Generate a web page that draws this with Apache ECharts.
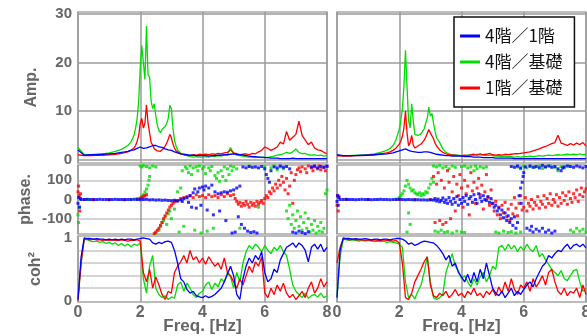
<!DOCTYPE html>
<html>
<head>
<meta charset="utf-8">
<script src="https://cdn.jsdelivr.net/npm/echarts@6/dist/echarts.min.js"></script>
<style>
html, body { margin: 0; padding: 0; background: #fff; }
#chart { width: 587px; height: 336px; }
</style>
</head>
<body>
<div id="chart"></div>
<script>
var seriesNames = ['4階／1階', '4階／基礎', '1階／基礎']

// amplitude spectra, finer steps around the peaks
var ampFreq = [0, 0.2, 0.4, 0.6, 0.8, 1.0, 1.2, 1.4, 1.6, 1.7, 1.8,
    1.85, 1.9, 1.95, 2.0, 2.05, 2.1, 2.15, 2.2, 2.25, 2.3, 2.35, 2.4, 2.45, 2.5, 2.55, 2.6, 2.65, 2.7, 2.75, 2.8, 2.85, 2.9, 2.95, 3.0, 3.05, 3.1, 3.15, 3.2,
    3.3, 3.4, 3.5, 3.6, 3.7, 3.8, 3.9, 4.0,
    4.1, 4.2, 4.3, 4.4, 4.5, 4.6, 4.7, 4.8, 4.9, 5.0,
    5.1, 5.2, 5.3, 5.4, 5.5, 5.6, 5.7, 5.8, 5.9, 6.0,
    6.1, 6.2, 6.3, 6.4, 6.5, 6.6, 6.7, 6.8, 6.9, 7.0,
    7.1, 7.2, 7.3, 7.4, 7.5, 7.6, 7.7, 7.8, 7.9, 8.0]

var ampB1 = [2.0, 0.9, 1.0, 1.0, 1.1, 1.2, 1.3, 1.5, 1.7, 1.9, 2.0,
    2.1, 2.3, 2.5, 2.6, 2.5, 2.3, 2.2, 2.4, 2.3, 2.6, 2.8, 2.9, 2.8, 2.9, 2.7, 2.6, 2.5, 2.5, 2.3, 2.2, 2.2, 2.0, 1.9, 1.9, 1.7, 1.6, 1.5, 1.4,
    1.2, 1.1, 1.0, 0.9, 0.9, 0.8, 0.8, 0.8,
    0.8, 0.7, 0.8, 0.8, 0.9, 0.9, 1.0, 1.0, 1.1, 1.2,
    1.1, 1.0, 0.9, 0.8, 0.7, 0.6, 0.6, 0.5, 0.5, 0.4,
    0.4, 0.3, 0.3, 0.3, 0.2, 0.2, 0.2, 0.2, 0.3, 0.2,
    0.2, 0.2, 0.2, 0.2, 0.2, 0.2, 0.2, 0.2, 0.2, 0.2]
var ampG1 = [2.5, 1.0, 1.0, 1.1, 1.2, 1.4, 1.7, 2.1, 2.9, 3.6, 5.0,
    6.5, 8.5, 12, 19, 23.5, 20, 16.5, 27.5, 17.5, 17, 12, 10.5, 11.5, 9, 7, 6, 5.5, 6.2, 5.8, 6.8, 7.5, 8.5, 11.2, 10.5, 6.5, 4.0, 2.8, 2.0,
    1.3, 1.0, 0.8, 0.6, 0.5, 0.6, 0.5, 0.5,
    0.6, 0.5, 0.7, 0.6, 0.8, 0.7, 0.9, 1.0, 2.5, 1.2,
    0.9, 0.8, 0.7, 0.6, 0.5, 0.5, 0.4, 0.5, 0.4, 0.5,
    0.4, 0.6, 0.7, 0.9, 1.0, 1.2, 1.5, 1.3, 1.6, 2.2,
    1.5, 1.2, 1.3, 1.0, 0.9, 1.0, 0.8, 0.9, 0.7, 0.8]
var ampR1 = [1.0, 0.8, 0.8, 0.9, 0.9, 1.0, 1.1, 1.3, 1.6, 1.9, 2.4,
    2.9, 3.8, 5.0, 7.5, 8.5, 6.5, 7.5, 11.3, 7.5, 5.5, 3.5, 3.0, 2.2, 2.0, 1.8, 2.0, 1.7, 2.1, 2.3, 2.8, 3.4, 4.2, 5.2, 4.5, 3.2, 2.4, 1.8, 1.5,
    1.2, 1.0, 0.9, 0.8, 1.0, 0.9, 1.1, 1.0,
    1.1, 1.0, 1.2, 1.1, 1.3, 1.2, 1.4, 1.5, 2.0, 1.4,
    1.2, 1.0, 1.1, 1.2, 1.0, 1.3, 1.2, 1.6, 1.9, 2.6,
    2.3, 1.9, 2.2, 2.6, 3.6, 3.2, 5.8, 4.0, 4.6, 5.2,
    7.9, 5.0, 4.0, 3.1, 3.6, 2.4, 2.0, 1.9, 1.5, 1.2]

var ampB2 = [1.0, 0.8, 0.8, 0.8, 0.9, 0.9, 1.0, 1.1, 1.2, 1.3, 1.4,
    1.5, 1.6, 1.7, 1.8, 1.9, 2.0, 2.1, 2.2, 2.0, 1.9, 1.8, 1.7, 1.6, 1.6, 1.5, 1.5, 1.5, 1.5, 1.5, 1.6, 1.5, 1.6, 1.5, 1.5, 1.4, 1.3, 1.2, 1.1,
    1.0, 0.9, 0.8, 0.8, 0.7, 0.7, 0.7, 0.7,
    0.6, 0.6, 0.6, 0.5, 0.5, 0.5, 0.4, 0.4, 0.4, 0.4,
    0.3, 0.3, 0.3, 0.3, 0.3, 0.3, 0.2, 0.2, 0.2, 0.2,
    0.2, 0.2, 0.2, 0.2, 0.2, 0.2, 0.2, 0.2, 0.2, 0.2,
    0.2, 0.2, 0.2, 0.2, 0.2, 0.2, 0.2, 0.2, 0.2, 0.2]
var ampG2 = [0.8, 0.8, 0.8, 0.9, 0.9, 1.0, 1.2, 1.5, 1.9, 2.3, 2.9,
    3.4, 4.2, 5.2, 6.2, 8.0, 10.5, 15, 22.5, 15, 8.0, 6.5, 11.5, 8, 5.2, 4.8, 5.0, 4.6, 5.3, 5.8, 6.3, 7.5, 8.5, 10.8, 9.0, 9.5, 7.5, 5.8, 4.5,
    3.5, 2.2, 1.5, 1.2, 1.0, 0.9, 0.9, 0.8,
    0.8, 0.9, 1.0, 0.9, 1.1, 1.0, 0.9, 0.8, 0.9, 0.8,
    0.7, 0.7, 0.6, 0.7, 0.6, 0.6, 0.5, 0.6, 0.5, 0.6,
    0.6, 0.7, 0.6, 0.7, 0.8, 0.7, 0.8, 0.9, 0.8, 0.9,
    1.0, 0.9, 1.0, 1.1, 1.0, 1.1, 1.0, 1.2, 1.0, 1.1]
var ampR2 = [0.8, 0.7, 0.7, 0.8, 0.8, 0.9, 1.0, 1.2, 1.4, 1.6, 1.9,
    2.1, 2.4, 2.8, 3.2, 3.8, 4.8, 6.5, 10.0, 5.5, 2.8, 3.5, 5.0, 3.0, 2.4, 2.6, 2.8, 2.7, 3.2, 3.6, 4.0, 4.6, 5.0, 6.2, 5.5, 5.2, 4.3, 3.4, 2.8,
    2.0, 1.5, 1.2, 1.0, 0.9, 0.9, 0.8, 0.8,
    0.9, 0.8, 1.0, 1.1, 0.9, 1.2, 1.0, 1.1, 1.3, 1.0,
    0.9, 1.0, 0.9, 1.1, 1.0, 1.1, 1.2, 1.2, 1.3, 1.4,
    1.5, 1.6, 1.8, 2.0, 2.2, 2.5, 2.7, 3.0, 3.3, 3.5,
    5.0, 3.4, 3.2, 2.9, 3.3, 3.0, 3.4, 3.1, 3.5, 2.8]

// phase [Hz, deg]
var phB1 = [[0.0, -20], [0.02, 10], [0.05, -40], [0.08, 5], [0.1, 0], [0.2, 0], [0.3, 1], [0.4, 0], [0.5, -1], [0.6, 0], [0.7, 1], [0.8, 0], [0.9, 0],
    [1.0, -1], [1.1, 0], [1.2, 1], [1.3, 0], [1.4, 0], [1.5, -1], [1.6, 0], [1.7, 0], [1.8, 1], [1.9, 0], [2.0, -1], [2.1, 0], [2.2, 1], [2.3, -2],
    [2.4, -1], [2.5, -3], [2.6, -2], [2.7, -4], [2.8, -3], [2.9, -5], [3.0, -6], [3.1, -4], [3.2, -8], [3.3, -2], [3.35, -10], [3.4, 5], [3.5, 10],
    [3.55, -15], [3.6, 20], [3.65, -40], [3.7, 35], [3.75, 55], [3.8, -45], [3.85, 40], [3.9, 60], [3.95, -30], [4.0, 65], [4.05, 50], [4.1, 70],
    [4.15, -55], [4.2, 60], [4.3, 75], [4.35, -80], [4.4, 40], [4.5, 30], [4.55, -60], [4.6, 35], [4.7, 40], [4.75, -110], [4.8, 38], [4.9, 45],
    [4.95, -175], [5.0, 50], [5.05, -170], [5.1, 60], [5.15, -90], [5.2, 70], [5.25, -130], [5.3, 170], [5.35, -150], [5.4, 165], [5.45, -165],
    [5.5, 172], [5.55, -172], [5.6, 168], [5.65, -168], [5.7, 170], [5.75, -175], [5.8, 165], [5.9, 172], [6.0, 160], [6.05, 130], [6.1, 110],
    [6.15, 90], [6.2, 150], [6.3, 170], [6.4, 165], [6.5, 175], [6.6, 168], [6.7, 172], [6.8, 160], [6.9, -170], [7.0, -175], [7.1, -165],
    [7.2, -172], [7.3, -178], [7.4, -168], [7.5, 170], [7.6, 175], [7.7, 165], [7.8, 172], [7.9, 168], [8.0, 175]]
var phG1 = [[0.0, -80], [0.02, -120], [0.04, -40], [0.3, 0], [1.0, 0], [1.7, 0], [1.9, 3],
    [2.0, 8], [2.05, 15], [2.1, 25], [2.15, 40], [2.2, 55], [2.25, 75], [2.28, 100], [2.3, 120],
    [2.0, 175], [2.05, 170], [2.1, 178], [2.2, 172], [2.3, 165], [2.4, 175], [2.5, 170],
    [2.5, -175], [2.6, -160], [2.65, -140], [2.7, -120], [2.75, -110], [2.8, -90], [2.85, -130], [2.9, -75], [2.95, -60], [3.0, -100], [3.1, -50],
    [3.2, 40], [3.25, -170], [3.3, 60], [3.35, 150], [3.4, -140], [3.45, 170], [3.5, 160], [3.55, 140], [3.6, 175], [3.65, 130], [3.7, 165],
    [3.75, -160], [3.8, 170], [3.85, 150], [3.9, 175], [3.95, -175], [4.0, 160], [4.05, 170], [4.1, 135], [4.15, -165], [4.2, 165], [4.25, 150],
    [4.3, 172], [4.35, -150], [4.4, 125], [4.45, 110], [4.5, 140], [4.55, 95], [4.6, 150], [4.65, 120], [4.7, 170], [4.75, 100], [4.8, 160],
    [4.85, 130], [4.9, 175], [4.95, 150], [5.0, 170], [5.1, 160], [5.2, -150], [5.5, 175], [5.8, -40], [6.0, 170], [6.2, 165], [6.3, 175],
    [6.4, 155], [6.5, 170], [6.6, 160], [6.7, -60], [6.75, -100], [6.8, -30], [6.85, -130], [6.9, -80], [6.95, -150], [7.0, -110], [7.05, -60],
    [7.1, -140], [7.15, -90], [7.2, -160], [7.25, -120], [7.3, -70], [7.35, -150], [7.4, -100], [7.45, -170], [7.5, -130], [7.55, -160],
    [7.6, -110], [7.65, -175], [7.7, -140], [7.75, -165], [7.8, -120], [7.85, -170], [7.9, -150], [7.95, 30], [8.0, 50]]
var phR1 = [[0.0, 40], [0.02, 70], [0.04, 20], [0.06, -60], [0.08, 30], [0.2, 0], [0.5, 0], [1.0, 0], [1.5, 0], [1.9, 2],
    [2.0, 5], [2.05, 10], [2.1, 15], [2.15, 20], [2.2, 25],
    [2.45, -178], [2.5, -170], [2.55, -160], [2.6, -150], [2.65, -135], [2.7, -120], [2.75, -100], [2.8, -85], [2.85, -70], [2.9, -55],
    [2.95, -40], [3.0, -30], [3.05, -20], [3.1, -12], [3.15, -8],
    [3.2, -5], [3.3, 5], [3.4, 10], [3.5, 15], [3.6, 20], [3.7, 10], [3.8, 25], [3.9, 15], [4.0, 20], [4.1, 10], [4.2, 25], [4.3, 15],
    [4.4, 20], [4.5, 10], [4.6, 25], [4.7, 15], [4.8, 30], [4.9, 20], [5.0, 25], [5.05, 5],
    [5.1, -10], [5.15, -25], [5.2, -15], [5.25, -35], [5.3, -20], [5.35, -30], [5.4, -10], [5.45, -25], [5.5, -40], [5.55, -15], [5.6, -30],
    [5.65, -20], [5.7, -35], [5.75, -10], [5.8, -25], [5.85, -15], [5.9, -5], [5.95, -20], [6.0, 5],
    [6.05, 20], [6.1, 10], [6.15, 40], [6.2, 30], [6.25, 60], [6.3, 45], [6.35, 80], [6.4, 60], [6.45, 100], [6.5, 75], [6.55, 120], [6.6, 90],
    [6.65, 50], [6.7, 110], [6.75, 30], [6.8, 70], [6.85, 140], [6.9, -20], [6.95, 100], [7.0, 130],
    [7.05, 155], [7.1, 165], [7.15, 145], [7.2, 170], [7.3, 160], [7.35, 140], [7.4, 175], [7.5, 165], [7.55, 150], [7.6, 170], [7.7, 160],
    [7.75, 175], [7.8, 155], [7.9, 168], [7.95, 150], [8.0, 172]]

var phB2 = [[0.0, -10], [0.02, 20], [0.04, -30], [0.06, 10], [0.1, 0], [0.2, 0], [0.3, 1], [0.4, 0], [0.5, 0], [0.6, -1], [0.7, 0], [0.8, 1],
    [0.9, 0], [1.0, 0], [1.1, -1], [1.2, 0], [1.3, 0], [1.4, 1], [1.5, 0], [1.6, 0], [1.7, -1], [1.8, 0], [1.9, 0], [2.0, 1], [2.1, 0], [2.2, -1],
    [2.3, 0], [2.4, -1], [2.5, -2], [2.6, -1], [2.7, -2], [2.8, -2], [2.9, -3], [3.0, -2],
    [3.1, -3], [3.15, 5], [3.2, -8], [3.25, 2], [3.3, -12], [3.35, -5], [3.4, 8], [3.45, -15], [3.5, -2], [3.55, -20], [3.6, 10], [3.65, -10],
    [3.7, -25], [3.75, 5], [3.8, -15], [3.85, 15], [3.9, -30], [3.95, 0], [4.0, -20], [4.05, 10], [4.1, -10], [4.15, 20], [4.2, -25], [4.25, 5],
    [4.3, 15], [4.35, -15], [4.4, 25], [4.45, 0], [4.5, -20], [4.55, 30], [4.6, 10], [4.65, -10], [4.7, 20], [4.75, 0], [4.8, -5], [4.85, 15],
    [4.9, -15], [4.95, 5],
    [5.0, -20], [5.05, -40], [5.1, -30], [5.15, -60], [5.2, -45], [5.25, -80], [5.3, -55], [5.35, -95], [5.4, -70], [5.45, -110], [5.5, -85],
    [5.55, -120], [5.6, -100], [5.65, -135], [5.7, -90], [5.75, -150], [5.8, -120],
    [5.85, 20], [5.9, 60], [5.95, 90], [5.98, 120], [6.0, 140], [5.92, -20],
    [5.6, 172], [5.7, 168], [5.8, 175], [5.9, 165], [6.05, 170], [6.2, 175], [6.3, 168], [6.4, 172], [6.5, 165], [6.6, 178], [6.7, 170],
    [6.8, 175], [6.9, 168], [7.0, 172], [7.1, 160], [7.2, 150], [7.25, 165], [7.3, 170], [7.4, 175], [7.5, 172], [7.6, 168], [7.7, 175],
    [7.8, 170], [7.9, 165], [8.0, 172],
    [6.1, -150], [6.2, -160], [6.25, -140], [6.3, -170], [6.4, -155], [6.5, -165], [6.6, -150], [6.7, -170], [6.8, -160], [6.9, -175], [7.0, -165]]
var phG2 = [[0.3, 0], [1.0, 0], [1.9, 2],
    [2.0, 10], [2.05, 20], [2.1, 30], [2.15, 45], [2.2, 70], [2.25, 100], [2.3, 80], [2.35, 60], [2.4, 45], [2.45, 50], [2.5, 35], [2.55, 30],
    [2.6, 25], [2.65, 35], [2.7, 20], [2.75, 30], [2.8, 25], [2.85, 40], [2.9, 35], [2.95, 60], [3.0, 80], [3.05, 110], [3.1, 90],
    [2.3, -70], [2.35, -130], [2.25, -170],
    [3.1, 175], [3.2, 170], [3.3, 178], [3.4, 165], [3.5, 172], [3.6, 160], [3.7, 175], [3.8, 168], [4.0, 172], [4.1, 175], [4.2, 165],
    [4.3, 170], [4.4, 150], [4.45, 175], [4.5, 160], [4.6, 172], [4.7, 165], [4.8, 170],
    [3.15, -165], [3.25, -170], [3.35, -160], [3.45, -172], [3.55, -168], [3.7, -175], [3.85, -165], [4.0, -170], [4.1, -172],
    [5.1, -170], [5.2, -175], [5.35, -165], [5.5, -172], [5.6, -168], [5.75, -175], [5.9, -170],
    [5.8, 170], [5.9, 160], [6.0, 175], [6.1, 165], [6.2, 172], [6.35, 168], [6.5, 175], [6.6, 162], [6.7, 170], [6.85, 175], [7.0, 168],
    [7.1, 150], [7.2, 172], [7.3, 165], [7.45, 175],
    [7.5, -160], [7.6, -170], [7.7, -150], [7.8, -165], [7.9, -155], [8.0, -170]]
var phR2 = [[0.0, -30], [0.02, 20], [0.04, -60], [0.06, 15], [0.3, 0], [1.0, 0], [2.0, 0], [2.5, 0], [3.0, 0],
    [3.1, 120], [3.15, -120], [3.2, 80], [3.25, 140], [3.3, -110], [3.35, 100], [3.4, -130], [3.45, 60], [3.5, -120], [3.55, 150], [3.6, 90],
    [3.65, -100], [3.7, 40], [3.75, 120], [3.8, -60], [3.85, 80], [3.9, 20], [3.95, 130], [4.0, 60], [4.05, -40], [4.1, 100], [4.15, 30],
    [4.2, 70], [4.25, -80], [4.3, 140], [4.35, 45], [4.4, 90], [4.45, -20], [4.5, 60], [4.55, 110], [4.6, 25], [4.65, 75], [4.7, -50],
    [4.75, 40], [4.8, 130], [4.85, 10], [4.9, -30], [4.95, 50],
    [5.0, -20], [5.05, -60], [5.1, -10], [5.15, -80], [5.2, -40], [5.25, -100], [5.3, -30], [5.35, -70], [5.4, -15], [5.45, -90], [5.5, -50],
    [5.55, -110], [5.6, -25], [5.65, -75], [5.7, 10], [5.75, -45], [5.8, -85], [5.85, -20], [5.9, 20], [5.95, -55],
    [6.0, -40], [6.05, 10], [6.1, -60], [6.15, -20], [6.2, -35], [6.25, 0], [6.3, -50], [6.35, -15], [6.4, -30], [6.45, 15], [6.5, -45],
    [6.55, -10], [6.6, -25], [6.65, 20], [6.7, -40], [6.75, 5], [6.8, -20], [6.85, 30], [6.9, -30], [6.95, 0], [7.0, -15], [7.05, 25],
    [7.1, -35], [7.15, 10], [7.2, -20], [7.25, 35], [7.3, -5], [7.35, 20], [7.4, -25], [7.45, 40], [7.5, 5], [7.55, -15], [7.6, 30],
    [7.65, 10], [7.7, 50], [7.75, -10], [7.8, 25], [7.85, 60], [7.9, 15], [7.95, 40], [8.0, 55]]

// coherence, 0.1 Hz steps
var cohFreq = [0.0, 0.1, 0.2, 0.3, 0.4, 0.5, 0.6, 0.7, 0.8, 0.9,
    1.0, 1.1, 1.2, 1.3, 1.4, 1.5, 1.6, 1.7, 1.8, 1.9,
    2.0, 2.1, 2.2, 2.3, 2.4, 2.5, 2.6, 2.7, 2.8, 2.9,
    3.0, 3.1, 3.2, 3.3, 3.4, 3.5, 3.6, 3.7, 3.8, 3.9,
    4.0, 4.1, 4.2, 4.3, 4.4, 4.5, 4.6, 4.7, 4.8, 4.9,
    5.0, 5.1, 5.2, 5.3, 5.4, 5.5, 5.6, 5.7, 5.8, 5.9,
    6.0, 6.1, 6.2, 6.3, 6.4, 6.5, 6.6, 6.7, 6.8, 6.9,
    7.0, 7.1, 7.2, 7.3, 7.4, 7.5, 7.6, 7.7, 7.8, 7.9, 8.0]

var cohB1 = [0.02, 0.7, 1.0, 0.99, 0.99, 0.98, 0.99, 0.98, 0.98, 0.97,
    0.98, 0.97, 0.98, 0.97, 0.98, 0.97, 0.98, 0.98, 0.97, 0.98,
    0.99, 1.0, 0.99, 0.98, 0.92, 0.9, 0.93, 0.91, 0.94, 0.95,
    0.93, 0.8, 0.6, 0.35, 0.3, 0.18, 0.12, 0.15, 0.08, 0.06,
    0.05, 0.08, 0.05, 0.07, 0.1, 0.15, 0.2, 0.3, 0.42, 0.55,
    0.4, 0.1, 0.02, 0.35, 0.55, 0.68, 0.6, 0.72, 0.65, 0.78,
    0.45, 0.3, 0.35, 0.5, 0.45, 0.65, 0.75, 0.85, 0.88, 0.92,
    0.85, 0.92, 0.88, 0.8, 0.62, 0.85, 0.9, 0.82, 0.9, 0.78, 0.85]
var cohG1 = [0.05, 0.6, 0.98, 0.97, 0.95, 0.94, 0.95, 0.93, 0.94, 0.91,
    0.93, 0.9, 0.92, 0.88, 0.91, 0.87, 0.9, 0.86, 0.9, 0.88,
    0.92, 0.35, 0.12, 0.55, 0.72, 0.2, 0.1, 0.05, 0.08, 0.02,
    0.06, 0.04, 0.25, 0.3, 0.15, 0.28, 0.2, 0.1, 0.05, 0.12,
    0.15, 0.25, 0.3, 0.18, 0.28, 0.22, 0.35, 0.3, 0.45, 0.38,
    0.2, 0.45, 0.3, 0.6, 0.78, 0.88, 0.82, 0.9, 0.85, 0.78,
    0.88, 0.8, 0.75, 0.85, 0.8, 0.88, 0.78, 0.72, 0.5, 0.25,
    0.15, 0.1, 0.05, 0.12, 0.04, 0.08, 0.1, 0.06, 0.12, 0.05, 0.08]
var cohR1 = [0.0, 0.6, 0.98, 0.98, 0.97, 0.98, 0.97, 0.97, 0.96, 0.97,
    0.96, 0.97, 0.96, 0.96, 0.97, 0.96, 0.95, 0.96, 0.96, 0.97,
    0.95, 0.45, 0.3, 0.5, 0.2, 0.38, 0.25, 0.1, 0.02, 0.15,
    0.12, 0.45, 0.55, 0.62, 0.72, 0.6, 0.8, 0.65, 0.7, 0.6,
    0.68, 0.58, 0.7, 0.62, 0.55, 0.6, 0.5, 0.68, 0.45, 0.4,
    0.3, 0.2, 0.35, 0.25, 0.4, 0.55, 0.45, 0.62, 0.55, 0.7,
    0.12, 0.05, 0.2, 0.1, 0.25, 0.15, 0.28, 0.12, 0.05, 0.1,
    0.02, 0.08, 0.15, 0.05, 0.2, 0.3, 0.12, 0.2, 0.35, 0.22, 0.3]

var cohB2 = [0.05, 0.8, 1.0, 0.99, 0.99, 0.98, 0.99, 0.98, 0.98, 0.99,
    0.98, 0.97, 0.98, 0.98, 0.97, 0.98, 0.98, 0.97, 0.98, 0.99,
    0.99, 0.98, 0.95, 0.9, 0.92, 0.88, 0.9, 0.93, 0.95, 0.94,
    0.93, 0.92, 0.88, 0.82, 0.75, 0.65, 0.72, 0.55, 0.6, 0.45,
    0.38, 0.3, 0.42, 0.28, 0.45, 0.3, 0.5, 0.35, 0.6, 0.4,
    0.2, 0.12, 0.08, 0.15, 0.05, 0.12, 0.2, 0.08, 0.15, 0.1,
    0.18, 0.25, 0.3, 0.22, 0.35, 0.45, 0.55, 0.6, 0.72, 0.68,
    0.75, 0.8, 0.78, 0.85, 0.9, 0.82, 0.88, 0.9, 0.86, 0.9, 0.84]
var cohG2 = [0.05, 0.7, 0.98, 0.97, 0.96, 0.97, 0.96, 0.95, 0.96, 0.95,
    0.96, 0.95, 0.94, 0.95, 0.94, 0.95, 0.93, 0.94, 0.93, 0.92,
    0.9, 0.85, 0.3, 0.05, 0.1, 0.03, 0.15, 0.25, 0.45, 0.7,
    0.3, 0.05, 0.02, 0.05, 0.1, 0.45, 0.6, 0.75, 0.55, 0.48,
    0.35, 0.4, 0.3, 0.22, 0.35, 0.25, 0.38, 0.45, 0.3, 0.4,
    0.55, 0.5, 0.85, 0.88, 0.8, 0.9, 0.82, 0.88, 0.78, 0.86,
    0.8, 0.9, 0.82, 0.78, 0.88, 0.7, 0.75, 0.65, 0.58, 0.5,
    0.45, 0.4, 0.48, 0.35, 0.32, 0.4, 0.48, 0.5, 0.3, 0.15, 0.2]
var cohR2 = [0.6, 0.85, 0.98, 0.98, 0.97, 0.98, 0.97, 0.97, 0.97, 0.96,
    0.97, 0.96, 0.97, 0.96, 0.96, 0.97, 0.96, 0.96, 0.95, 0.96,
    0.92, 0.6, 0.05, 0.02, 0.12, 0.3, 0.4, 0.5, 0.62, 0.7,
    0.25, 0.08, 0.05, 0.12, 0.08, 0.15, 0.05, 0.1, 0.18, 0.08,
    0.12, 0.05, 0.15, 0.1, 0.2, 0.08, 0.12, 0.05, 0.15, 0.1,
    0.18, 0.08, 0.22, 0.12, 0.3, 0.15, 0.35, 0.18, 0.1, 0.25,
    0.2, 0.3, 0.15, 0.35, 0.22, 0.3, 0.4, 0.25, 0.45, 0.5,
    0.3, 0.15, 0.1, 0.2, 0.08, 0.15, 0.12, 0.2, 0.05, 0.25, 0.1]

var colors = ['#0000ff', '#00dd00', '#ff0000']
var fontFamily = '"Liberation Sans", Arial, sans-serif'

function pairs(xs, ys) {
    var out = []
    for (var i = 0; i < xs.length; i++) {
        out.push([xs[i], ys[i]])
    }
    return out
}

var chart = echarts.init(document.getElementById('chart'))

var colLeft = [78, 337]
var rows = [
    { top: 12, height: 151, min: -0.7, max: 30.4, labels: [0, 10, 20, 30], lines: [0, 10, 20, 30], lineColor: '#9a9a9a', lineWidth: 1.5, name: 'Amp.', nameGap: 38 },
    { top: 165, height: 69, min: -180, max: 180, labels: [-100, 0, 100], lines: [-100, 0, 100], lineColor: '#d4d4d4', lineWidth: 2, name: 'phase.', nameGap: 44 },
    { top: 236, height: 66, min: -0.02, max: 1.03, labels: [0, 1], lines: [0.2, 0.4, 0.6, 0.8], lineColor: '#d4d4d4', lineWidth: 2, name: 'coh²', nameGap: 34 }
]

var grids = [], xAxes = [], yAxes = []
rows.forEach(function (row, r) {
    colLeft.forEach(function (left, c) {
        grids.push({
            left: left, width: 249, top: row.top, height: row.height,
            show: true, borderColor: '#a8a8a8', borderWidth: 1.5, backgroundColor: '#fff',
            outerBoundsMode: 'none'
        })
        var gi = grids.length - 1
        var bottomRow = r === rows.length - 1
        xAxes.push({
            type: 'value', gridIndex: gi, min: 0, max: 8, interval: 2,
            axisLine: { show: false }, axisTick: { show: false },
            splitLine: { show: true, lineStyle: { color: '#9a9a9a', width: 1.5 } },
            axisLabel: { show: bottomRow, margin: 3, showMinLabel: true, showMaxLabel: true,
                color: '#666', fontSize: 16, fontWeight: 'bold', fontFamily: fontFamily },
            name: bottomRow ? 'Freq. [Hz]' : '', nameLocation: 'middle', nameGap: 16, nameMoveOverlap: false,
            nameTextStyle: { color: '#666', fontSize: 17, fontWeight: 'bold', fontFamily: fontFamily }
        })
        yAxes.push({
            type: 'value', gridIndex: gi, min: row.min, max: row.max,
            axisLine: { show: false },
            axisTick: { show: false, customValues: row.lines },
            splitLine: { show: true, lineStyle: { color: row.lineColor, width: row.lineWidth } },
            axisLabel: { show: c === 0, customValues: row.labels, margin: 6,
                color: '#666', fontSize: 15, fontWeight: 'bold', fontFamily: fontFamily },
            name: c === 0 ? row.name : '', nameLocation: 'middle', nameRotate: 90, nameGap: row.nameGap, nameMoveOverlap: false,
            nameTextStyle: { color: '#666', fontSize: 16, fontWeight: 'bold', fontFamily: fontFamily }
        })
    })
})

var ampData = [[ampB1, ampG1, ampR1], [ampB2, ampG2, ampR2]]
var phData = [[phB1, phG1, phR1], [phB2, phG2, phR2]]
var cohData = [[cohB1, cohG1, cohR1], [cohB2, cohG2, cohR2]]

var series = []
// green first, then red, blue on top
var drawOrder = [1, 2, 0]
for (var c = 0; c < 2; c++) {
    drawOrder.forEach(function (k) {
        series.push({
            name: seriesNames[k], type: 'line', xAxisIndex: c, yAxisIndex: c,
            data: pairs(ampFreq, ampData[c][k]), showSymbol: false, color: colors[k],
            lineStyle: { width: 1.3, color: colors[k] }
        })
        series.push({
            name: seriesNames[k], type: 'scatter', xAxisIndex: 2 + c, yAxisIndex: 2 + c,
            data: phData[c][k], symbol: 'rect', symbolSize: 3, color: colors[k],
            itemStyle: { color: colors[k] }
        })
        series.push({
            name: seriesNames[k], type: 'line', xAxisIndex: 4 + c, yAxisIndex: 4 + c,
            data: pairs(cohFreq, cohData[c][k]), showSymbol: false, color: colors[k],
            lineStyle: { width: 1.3, color: colors[k] }
        })
    })
}

var option = {
    animation: false,
    backgroundColor: '#fff',
    grid: grids,
    xAxis: xAxes,
    yAxis: yAxes,
    legend: {
        data: seriesNames,
        orient: 'vertical',
        left: 454, top: 17,
        icon: 'rect', itemWidth: 20, itemHeight: 3, itemGap: 6,
        padding: [9, 12, 9, 6],
        backgroundColor: '#fff', borderColor: '#111', borderWidth: 1.5,
        textStyle: { color: '#111', fontSize: 17, lineHeight: 20, fontFamily: '"Noto Sans CJK JP", sans-serif' }
    },
    series: series
}
chart.setOption(option)
</script>
</body>
</html>
